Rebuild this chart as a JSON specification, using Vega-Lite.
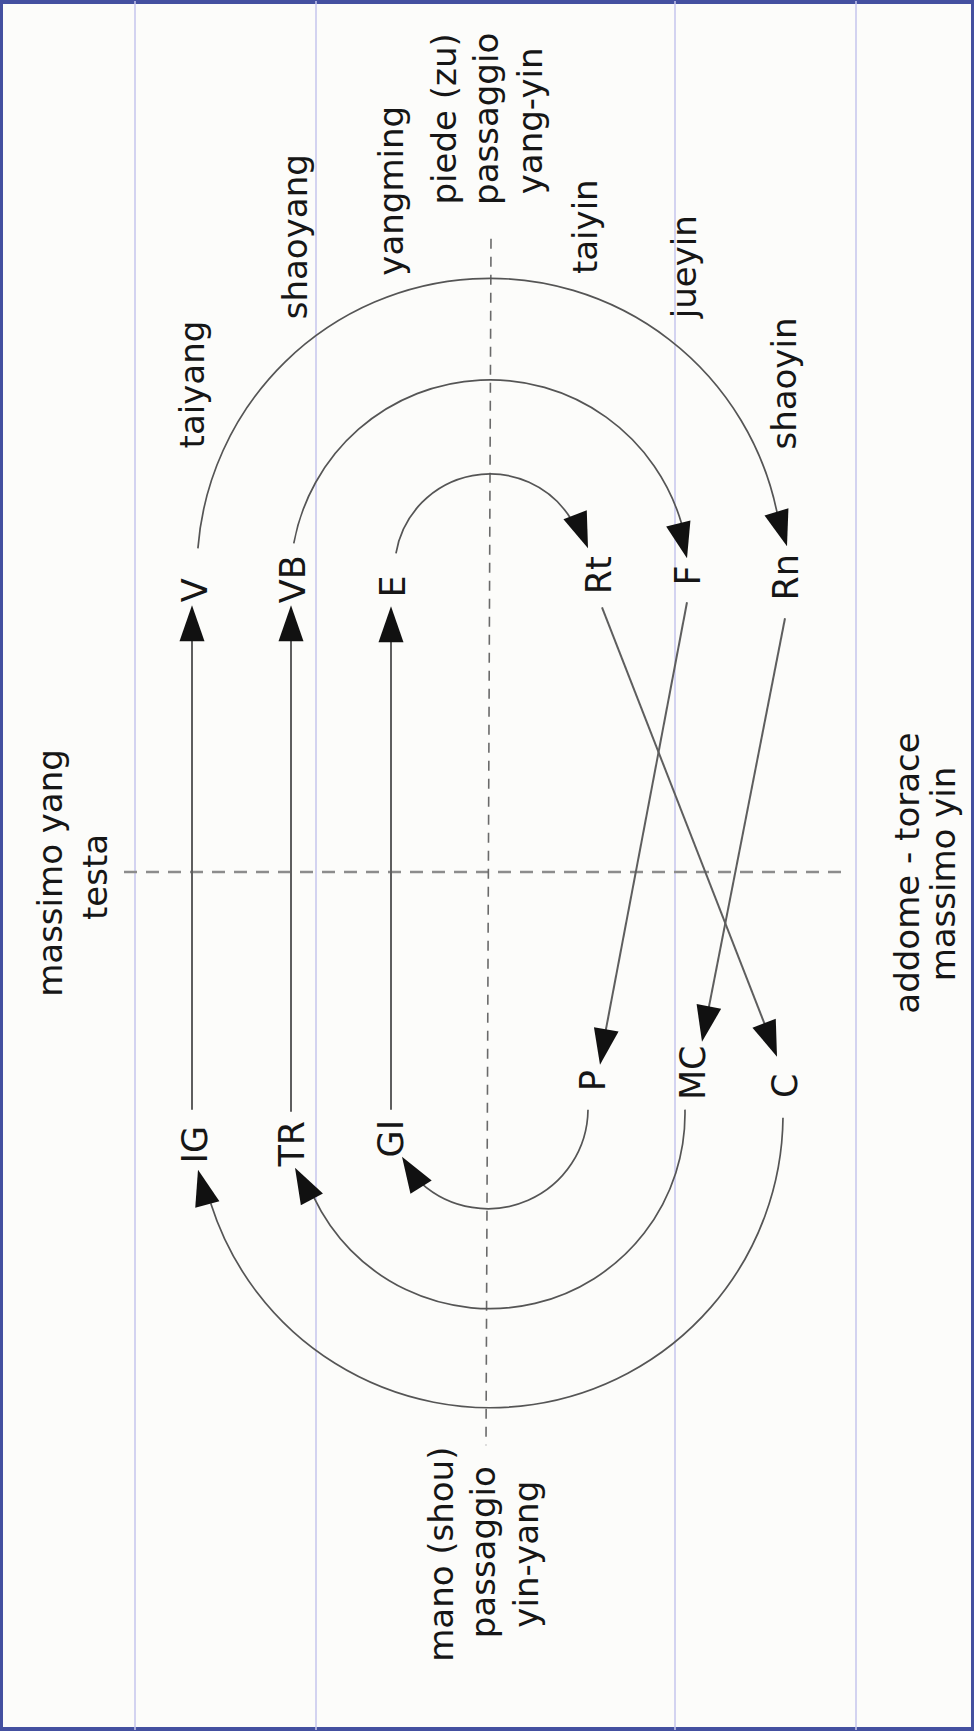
{
  "$schema": "https://vega.github.io/schema/vega-lite/v6.json",
  "width": 974,
  "height": 1731,
  "padding": 0,
  "autosize": {"type": "fit", "contains": "padding"},
  "background": "#fcfcfa",
  "config": {"view": {"stroke": "#4450a0", "strokeWidth": 6}},
  "datasets": {
    "grid": [
      {"x": 135, "y": 0, "x2": 135, "y2": 1731},
      {"x": 316, "y": 0, "x2": 316, "y2": 1731},
      {"x": 675, "y": 0, "x2": 675, "y2": 1731},
      {"x": 856, "y": 0, "x2": 856, "y2": 1731}
    ],
    "hdash": [{"x": 124, "y": 872, "x2": 845, "y2": 872}],
    "vdash": [{"x": 491, "y": 238, "x2": 486, "y2": 1446}],
    "segments": [
      {"from": "IG", "to": "V", "x": 192, "y": 1110, "x2": 192, "y2": 636},
      {"from": "TR", "to": "VB", "x": 291, "y": 1112, "x2": 291, "y2": 636},
      {"from": "GI", "to": "E", "x": 391, "y": 1110, "x2": 391, "y2": 637},
      {"from": "Rt", "to": "C", "x": 602, "y": 607, "x2": 770, "y2": 1038},
      {"from": "F", "to": "P", "x": 687, "y": 602, "x2": 603, "y2": 1045},
      {"from": "Rn", "to": "MC", "x": 785, "y": 618, "x2": 706, "y2": 1022}
    ],
    "arcs": [
      {"from": "V", "to": "Rn", "x": 490, "y": 571, "r": 293, "t0": -85.5, "t1": 78.8},
      {"from": "VB", "to": "F", "x": 490, "y": 579, "r": 199.5, "t0": -79.6, "t1": 74},
      {"from": "E", "to": "Rt", "x": 490, "y": 569, "r": 95.4, "t0": -80.3, "t1": 59},
      {"from": "P", "to": "GI", "x": 488, "y": 1109, "r": 100, "t0": 90.6, "t1": 222},
      {"from": "MC", "to": "TR", "x": 490, "y": 1114, "r": 195, "t0": 88.8, "t1": 244.5},
      {"from": "C", "to": "IG", "x": 490, "y": 1115, "r": 293, "t0": 90.6, "t1": 252.4}
    ],
    "heads": [
      {"at": "V", "x": 192, "y": 605, "a": 0},
      {"at": "VB", "x": 291, "y": 605, "a": 0},
      {"at": "E", "x": 391, "y": 606, "a": 0},
      {"at": "Rt", "x": 588, "y": 548, "a": 159},
      {"at": "F", "x": 687, "y": 558, "a": 166},
      {"at": "Rn", "x": 787, "y": 546, "a": 163},
      {"at": "P", "x": 600, "y": 1065, "a": 190},
      {"at": "MC", "x": 702, "y": 1042, "a": 191},
      {"at": "C", "x": 777, "y": 1057, "a": 159},
      {"at": "IG", "x": 198, "y": 1170, "a": 345},
      {"at": "TR", "x": 295, "y": 1168, "a": 332},
      {"at": "GI", "x": 402, "y": 1157, "a": 328}
    ],
    "nodes": [
      {"t": "V", "x": 207, "y": 590},
      {"t": "VB", "x": 305, "y": 579},
      {"t": "E", "x": 405, "y": 586},
      {"t": "Rt", "x": 611, "y": 575},
      {"t": "F", "x": 700, "y": 575},
      {"t": "Rn", "x": 798, "y": 577},
      {"t": "IG", "x": 207, "y": 1145},
      {"t": "TR", "x": 304, "y": 1144},
      {"t": "GI", "x": 403, "y": 1139},
      {"t": "P", "x": 605, "y": 1081},
      {"t": "MC", "x": 705, "y": 1073},
      {"t": "C", "x": 797, "y": 1086}
    ],
    "words": [
      {"t": "taiyang", "x": 204, "y": 384},
      {"t": "shaoyang", "x": 307, "y": 236},
      {"t": "yangming", "x": 403, "y": 190},
      {"t": "piede (zu)", "x": 456, "y": 118},
      {"t": "passaggio", "x": 498, "y": 118},
      {"t": "yang-yin", "x": 542, "y": 120},
      {"t": "taiyin", "x": 597, "y": 226},
      {"t": "jueyin", "x": 696, "y": 266},
      {"t": "shaoyin", "x": 796, "y": 383},
      {"t": "massimo yang", "x": 62, "y": 873},
      {"t": "testa", "x": 107, "y": 877},
      {"t": "addome - torace", "x": 919, "y": 873},
      {"t": "massimo yin", "x": 955, "y": 874},
      {"t": "mano (shou)", "x": 453, "y": 1555},
      {"t": "passaggio", "x": 495, "y": 1553},
      {"t": "yin-yang", "x": 538, "y": 1555}
    ]
  },
  "layer": [
    {
      "data": {"name": "grid"},
      "mark": {"type": "rule", "color": "#c6c6ec", "strokeWidth": 1.5},
      "encoding": {
        "x": {"field": "x", "type": "quantitative", "scale": {"domain": [0, 974], "nice": false, "zero": false}, "axis": null},
        "y": {"field": "y", "type": "quantitative", "scale": {"domain": [0, 1731], "nice": false, "zero": false, "reverse": true}, "axis": null},
        "x2": {"field": "x2"},
        "y2": {"field": "y2"}
      }
    },
    {
      "data": {"name": "hdash"},
      "mark": {"type": "rule", "color": "#8c8c8c", "strokeWidth": 2.5, "strokeDash": [13, 9]},
      "encoding": {
        "x": {"field": "x", "type": "quantitative", "axis": null},
        "y": {"field": "y", "type": "quantitative", "axis": null},
        "x2": {"field": "x2"},
        "y2": {"field": "y2"}
      }
    },
    {
      "data": {"name": "vdash"},
      "mark": {"type": "rule", "color": "#6a6a6a", "strokeWidth": 1.6, "strokeDash": [10, 8]},
      "encoding": {
        "x": {"field": "x", "type": "quantitative", "axis": null},
        "y": {"field": "y", "type": "quantitative", "axis": null},
        "x2": {"field": "x2"},
        "y2": {"field": "y2"}
      }
    },
    {
      "data": {"name": "segments"},
      "mark": {"type": "rule", "color": "#5e5e5e", "strokeWidth": 2},
      "encoding": {
        "x": {"field": "x", "type": "quantitative", "axis": null},
        "y": {"field": "y", "type": "quantitative", "axis": null},
        "x2": {"field": "x2"},
        "y2": {"field": "y2"}
      }
    },
    {
      "data": {"name": "arcs"},
      "mark": {"type": "arc", "fill": "transparent", "stroke": "#555555", "strokeWidth": 1.7},
      "encoding": {
        "x": {"field": "x", "type": "quantitative", "axis": null},
        "y": {"field": "y", "type": "quantitative", "axis": null},
        "radius": {"field": "r", "type": "quantitative", "scale": {"type": "linear", "domain": [0, 1000], "range": [0, 1000], "zero": true}},
        "radius2": {"field": "r"},
        "theta": {"field": "t0", "type": "quantitative", "stack": null, "scale": {"type": "linear", "domain": [0, 360], "range": [0, 6.283185307179586]}},
        "theta2": {"field": "t1"}
      }
    },
    {
      "data": {"name": "heads"},
      "mark": {"type": "point", "shape": "M0,0L1.25,3.6L-1.25,3.6Z", "size": 400, "filled": true, "color": "#111111", "opacity": 1, "strokeWidth": 0},
      "encoding": {
        "x": {"field": "x", "type": "quantitative", "axis": null},
        "y": {"field": "y", "type": "quantitative", "axis": null},
        "angle": {"field": "a", "type": "quantitative", "scale": {"domain": [0, 360], "range": [0, 360]}, "legend": null}
      }
    },
    {
      "data": {"name": "nodes"},
      "mark": {"type": "text", "angle": 270, "align": "center", "baseline": "alphabetic", "font": "DejaVu Sans", "fontSize": 35, "color": "#161616"},
      "encoding": {
        "x": {"field": "x", "type": "quantitative", "axis": null},
        "y": {"field": "y", "type": "quantitative", "axis": null},
        "text": {"field": "t"}
      }
    },
    {
      "data": {"name": "words"},
      "mark": {"type": "text", "angle": 270, "align": "center", "baseline": "alphabetic", "font": "DejaVu Sans", "fontSize": 34, "color": "#161616"},
      "encoding": {
        "x": {"field": "x", "type": "quantitative", "axis": null},
        "y": {"field": "y", "type": "quantitative", "axis": null},
        "text": {"field": "t"}
      }
    }
  ]
}
